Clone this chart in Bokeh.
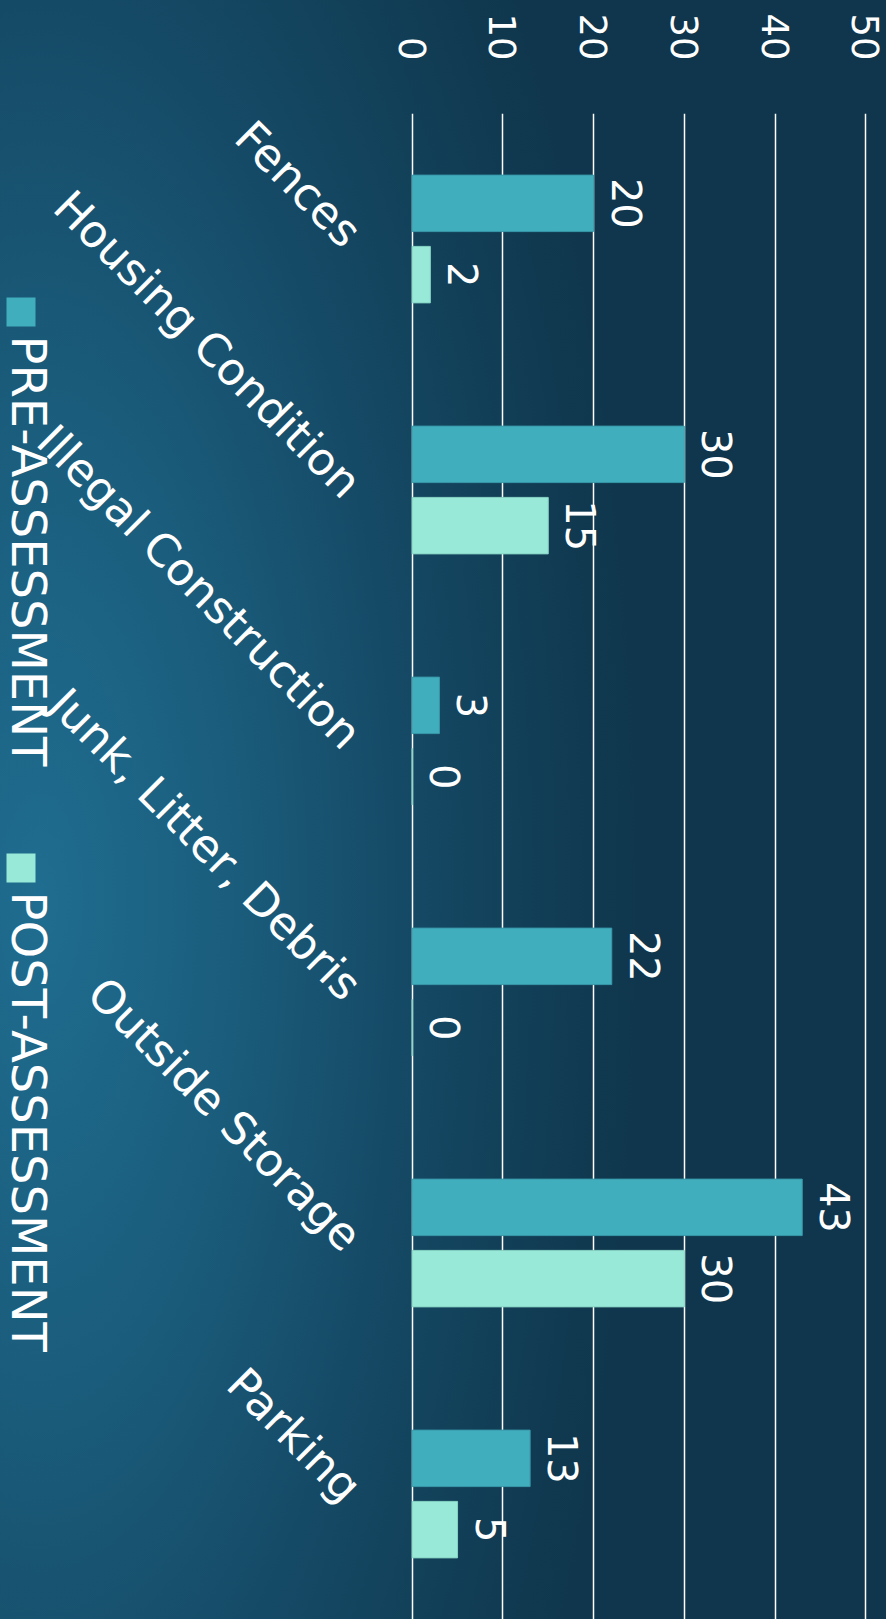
import math
from bokeh.plotting import figure
from bokeh.models import (FactorRange, Range1d, Label, BoxAnnotation,
                          FixedTicker, ColumnDataSource)
from bokeh.transform import dodge
from bokeh.core.properties import value
from bokeh.embed import file_html
from bokeh.resources import INLINE

# ---- data ----
categories = ["Fences", "Housing Condition", "Illegal Construction",
              "Junk, Litter, Debris", "Outside Storage", "Parking"]
pre_assessment = [20, 30, 3, 22, 43, 13]
post_assessment = [2, 15, 0, 0, 30, 5]
series_names = ["PRE-ASSESSMENT", "POST-ASSESSMENT"]
x_ticks = [0, 10, 20, 30, 40, 50]

# ---- style ----
PRE_COLOR = "#41aebe"
POST_COLOR = "#98e9d7"
FONT = "DejaVu Sans"
W, H = 886, 1619

src = ColumnDataSource(dict(
    cat=categories,
    pre=pre_assessment,
    post=post_assessment,
    pre_txt=[str(v) for v in pre_assessment],
    post_txt=[str(v) for v in post_assessment],
))

# frame spans the whole width; value 0 sits at x ~ 412 px
p = figure(width=W, height=H,
           y_range=FactorRange(factors=list(reversed(categories))),
           x_range=Range1d(-45.39, 52.29),
           x_axis_location="above", y_axis_location=None,
           output_backend="svg", toolbar_location=None,
           min_border_left=0, min_border_right=0,
           min_border_top=113, min_border_bottom=0)

p.background_fill_alpha = 0
p.border_fill_alpha = 0
p.outline_line_color = None
p.styles = {
    "position": "absolute",
    "left": "0px",
    "top": "0px",
    "background": "radial-gradient(ellipse 600px 1500px at 40px 900px, "
                  "#1f6d90 0%, #1a5b7a 35%, #154a66 60%, #113d55 85%, #0f364c 100%)",
}

OFF = 0.142
BAR_H = 0.225
p.hbar(y=dodge("cat", OFF, range=p.y_range), left=0, right="pre", height=BAR_H,
       fill_color=PRE_COLOR, line_color="#3898a8", line_width=1, source=src)
p.hbar(y=dodge("cat", -OFF, range=p.y_range), left=0, right="post", height=BAR_H,
       fill_color=POST_COLOR, line_color="#86d3c3", line_width=1, source=src)

# value labels
lbl_kw = dict(angle=-math.pi / 2, x_offset=33, text_align="center",
              text_baseline="middle", text_font=value(FONT),
              text_font_size="40px", text_color="white", source=src)
p.text(x="pre", y=dodge("cat", OFF, range=p.y_range), text="pre_txt", **lbl_kw)
p.text(x="post", y=dodge("cat", -OFF, range=p.y_range), text="post_txt", **lbl_kw)

# category labels (rotated 45 degrees, right-aligned to the value axis origin)
p.text(x=0, y="cat", text="cat", angle=-math.pi / 4, x_offset=-59,
       text_align="right", text_baseline="middle", text_font=value(FONT),
       text_font_size="45px", text_color="white", source=src)

# value axis on top
xa = p.xaxis[0]
xa.ticker = FixedTicker(ticks=x_ticks)
xa.major_label_orientation = -math.pi / 2
xa.major_label_standoff = 53
xa.axis_line_color = None
xa.major_tick_line_color = None
xa.minor_tick_line_color = None
xa.major_tick_out = 0
xa.major_tick_in = 0
xa.major_label_text_font = FONT
xa.major_label_text_font_size = "37px"
xa.major_label_text_color = "white"

p.xgrid.ticker = FixedTicker(ticks=x_ticks)
p.xgrid.grid_line_color = "white"
p.xgrid.grid_line_width = 1.5
p.ygrid.grid_line_color = None

# legend (rotated, drawn manually; screen units relative to the frame)
colors = [PRE_COLOR, POST_COLOR]
sq_top = [297, 853]
for name, col, top in zip(series_names, colors, sq_top):
    p.add_layout(BoxAnnotation(left=6, right=35,
                               top=H - top, bottom=H - (top + 29),
                               left_units="screen", right_units="screen",
                               top_units="screen", bottom_units="screen",
                               fill_color=col, fill_alpha=1, line_color=None))
    p.add_layout(Label(x=28, y=H - (top + 38),
                       x_units="screen", y_units="screen",
                       text=name, angle=-math.pi / 2,
                       text_align="left", text_baseline="middle",
                       text_font=FONT, text_font_size="48px",
                       text_color="white"))

open("out.html", "w").write(file_html(p, INLINE))
